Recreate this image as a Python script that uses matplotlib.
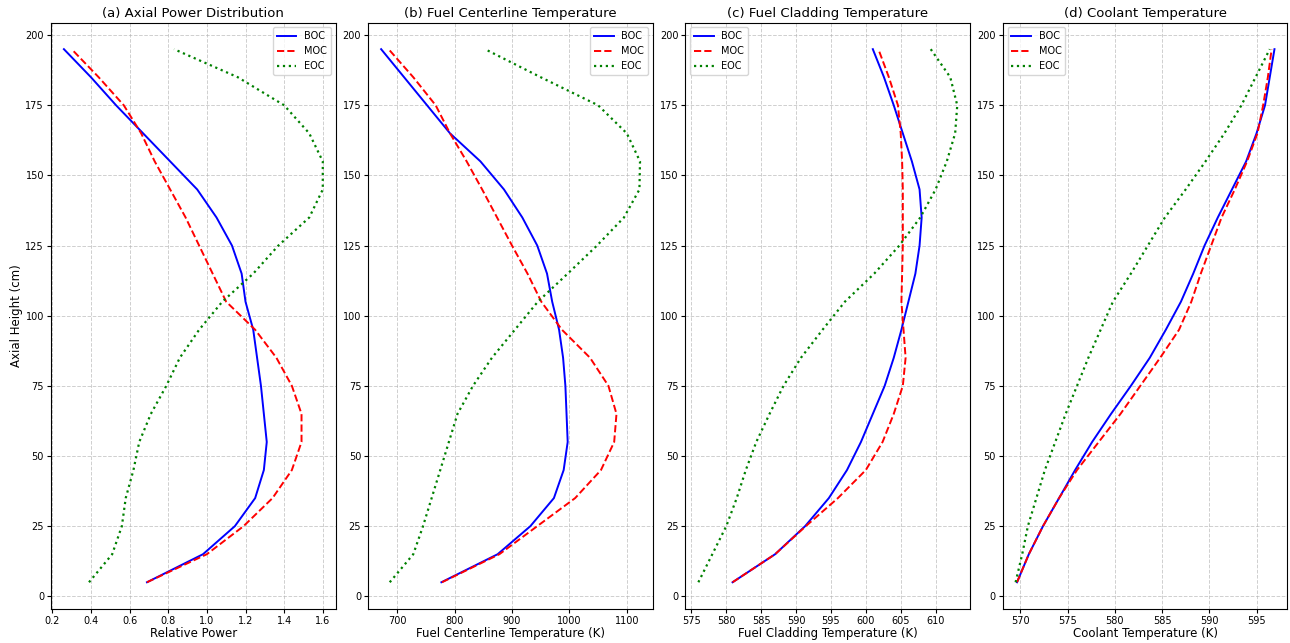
import numpy as np
import matplotlib
matplotlib.use('Agg')
import matplotlib.pyplot as plt

# axial node heights (cm)
height = [5, 15, 25, 35, 45, 55, 65, 75, 85, 95,
          105, 115, 125, 135, 145, 155, 165, 175, 185, 195]

# (a) relative power
power_boc = [0.69, 0.98, 1.145, 1.25, 1.295, 1.31, 1.295, 1.28, 1.26, 1.24,
             1.20, 1.18, 1.13, 1.05, 0.95, 0.81, 0.67, 0.53, 0.40, 0.26]
power_moc = [0.69, 1.00, 1.19, 1.34, 1.44, 1.49, 1.49, 1.44, 1.36, 1.25,
             1.10, 1.03, 0.96, 0.89, 0.81, 0.73, 0.66, 0.57, 0.44, 0.30]
power_eoc = [0.39, 0.51, 0.56, 0.58, 0.62, 0.65, 0.71, 0.79, 0.86, 0.96,
             1.08, 1.24, 1.37, 1.53, 1.60, 1.60, 1.53, 1.40, 1.16, 0.83]

# (b) fuel centerline temperature (K)
tfuel_boc = [777, 875, 932, 973, 990, 997, 995, 993, 989, 982,
             970, 961, 944, 918, 886, 845, 792, 752, 712, 672]
tfuel_moc = [778, 878, 944, 1010, 1055, 1078, 1082, 1068, 1036, 987,
             951, 927, 900, 874, 848, 821, 792, 767, 728, 685]
tfuel_eoc = [687, 728, 745, 760, 775, 790, 805, 832, 865, 905,
             945, 997, 1048, 1095, 1122, 1123, 1100, 1050, 950, 853]

# (c) fuel cladding temperature (K)
tclad_boc = [580.9, 587.0, 591.3, 594.7, 597.3, 599.3, 601.0, 602.7, 604.0, 605.1,
             606.1, 607.1, 607.7, 608.0, 607.7, 606.6, 605.3, 604.0, 602.6, 601.0]
tclad_moc = [580.9, 587.0, 591.4, 596.0, 600.0, 602.4, 604.0, 605.3, 605.7, 605.4,
             605.1, 605.2, 605.3, 605.3, 605.3, 605.2, 605.0, 604.6, 603.3, 601.8]
tclad_eoc = [576.0, 578.0, 580.0, 581.5, 582.8, 584.3, 586.2, 588.2, 590.7, 593.8,
             597.0, 601.2, 604.8, 607.8, 610.0, 611.6, 612.8, 613.1, 612.1, 609.3]

# (d) coolant temperature (K)
tcool_boc = [569.65, 570.9, 572.4, 574.1, 575.8, 577.6, 579.6, 581.7, 583.7, 585.4,
             587.0, 588.3, 589.5, 590.9, 592.4, 593.9, 595.0, 595.9, 596.4, 596.9]
tcool_moc = [569.65, 570.9, 572.4, 574.1, 576.0, 578.3, 580.6, 582.7, 584.8, 586.8,
             588.1, 589.1, 590.2, 591.3, 592.7, 594.0, 595.1, 595.7, 596.2, 596.6]
tcool_eoc = [569.5, 570.2, 570.8, 571.7, 572.6, 573.7, 574.8, 576.0, 577.2, 578.5,
             579.8, 581.7, 583.5, 585.3, 587.5, 589.6, 591.6, 593.4, 594.9, 596.4]

titles = ['(a) Axial Power Distribution', '(b) Fuel Centerline Temperature',
          '(c) Fuel Cladding Temperature', '(d) Coolant Temperature']
xlabels = ['Relative Power', 'Fuel Centerline Temperature (K)',
           'Fuel Cladding Temperature (K)', 'Coolant Temperature (K)']
series = [(power_boc, power_moc, power_eoc),
          (tfuel_boc, tfuel_moc, tfuel_eoc),
          (tclad_boc, tclad_moc, tclad_eoc),
          (tcool_boc, tcool_moc, tcool_eoc)]
legend_loc = ['upper right', 'upper right', 'upper left', 'upper left']

fig, axes = plt.subplots(1, 4, figsize=(12.9, 6.43), dpi=100)
plt.subplots_adjust(left=0.0395, right=0.998, top=0.965, bottom=0.053, wspace=0.114)

for i, ax in enumerate(axes):
    boc, moc, eoc = series[i]
    ax.plot(boc, height, 'b-', lw=1.4, label='BOC')
    ax.plot(moc, height, 'r--', lw=1.4, label='MOC')
    ax.plot(eoc, height, 'g:', lw=1.6, label='EOC')
    ax.set_title(titles[i], fontsize=9.5, pad=4)
    ax.set_xlabel(xlabels[i], fontsize=8.5, labelpad=1)
    ax.grid(True, linestyle='--', alpha=0.6, lw=0.7)
    ax.tick_params(labelsize=7, pad=2, length=3)
    ax.legend(loc=legend_loc[i], fontsize=7)
    ax.set_yticks([0, 25, 50, 75, 100, 125, 150, 175, 200])

axes[0].set_ylabel('Axial Height (cm)', fontsize=8.5, labelpad=2)

plt.savefig('out.png')
